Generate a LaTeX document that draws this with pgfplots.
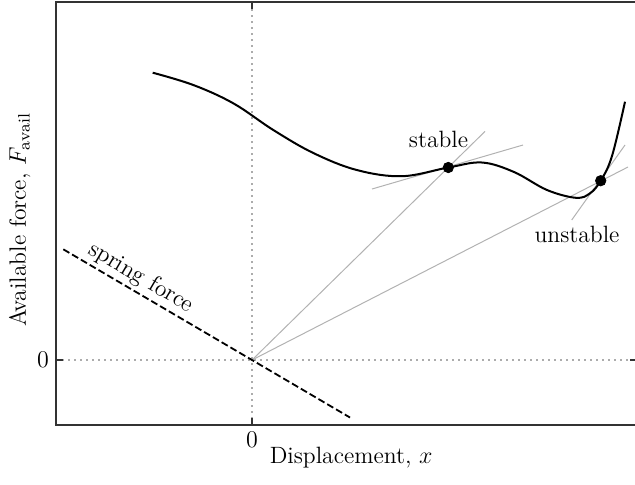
\documentclass[border=0pt]{standalone}
\usepackage{fontspec}
\usepackage{pgfplots}
\pgfplotsset{compat=1.18}
\begin{document}
\begin{tikzpicture}[font=\fontsize{11.8}{14}\selectfont]
\useasboundingbox (-28pt,-29.5pt) rectangle (289.5pt,212.5pt);
\begin{axis}[
  at={(0,0)}, anchor=south west,
  scale only axis, width=290.5pt, height=211.5pt,
  xmin=-1.96, xmax=3.85, ymin=-0.65, ymax=3.58,
  xtick={0}, ytick={0},
  tick align=inside, major tick length=3.5pt,
  tick style={black!80, line width=0.75pt},
  axis line style={black!80, line width=0.75pt},
  grid=major,
  major grid style={gray!65, line width=0.6pt, dash pattern=on 0.9pt off 2.1pt},
  xlabel={Displacement, $x$},
  ylabel={Available force, $F_{\mathrm{avail}}$},
  xlabel style={at={(axis description cs:0.508,-0.0898)}, anchor=base},
  ylabel style={at={(axis description cs:-0.0518,0.485)}, anchor=base},
  clip=false,
]
% lines through the origin and tangents at the equilibria
\addplot[gray!60, line width=0.5pt] coordinates {(1.20,1.71) (2.71,2.15)};
\addplot[gray!60, line width=0.5pt] coordinates {(0,0) (2.33,2.286)};
\addplot[gray!60, line width=0.5pt] coordinates {(0,0) (3.76,1.93)};
\addplot[gray!60, line width=0.5pt] coordinates {(3.197,1.40) (3.73,2.15)};
% spring force
\addplot[black, line width=0.9pt, dash pattern=on 3.5pt off 1.6pt] coordinates {(-1.887,1.107) (0.98,-0.575)};
% available force
\addplot[black, line width=1pt, smooth, tension=0.6] coordinates {
  (-0.993,2.873) (-0.587,2.75) (-0.187,2.567) (0.213,2.30) (0.613,2.07)
  (1.047,1.90) (1.5,1.838) (1.963,1.925) (2.3,1.975) (2.62,1.88)
  (2.95,1.70) (3.24,1.622) (3.38,1.667) (3.487,1.793) (3.6,2.04) (3.73,2.583)
};
% equilibrium points
\addplot[only marks, mark=*, mark size=2.6pt, black] coordinates {(1.963,1.925) (3.487,1.793)};
\node[rotate=-30.4] at (-1.11,0.82) {spring force};
\node at (1.865,2.205) {stable};
\node at (3.25,1.26) {unstable};
\end{axis}
\end{tikzpicture}
\end{document}
